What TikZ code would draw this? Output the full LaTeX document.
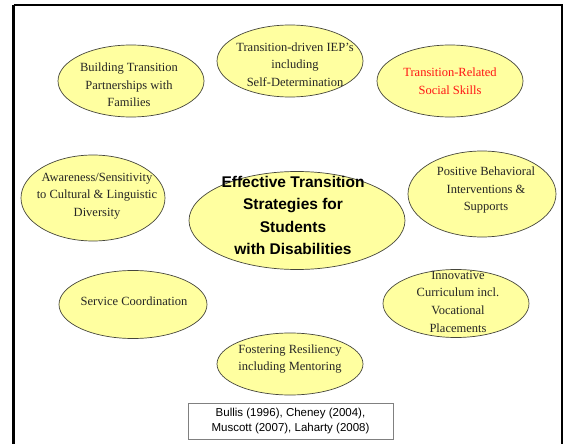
\documentclass[tikz,border=0pt]{standalone}
\usepackage{fontspec}
\setmainfont{Liberation Serif}
\newfontfamily\headfont{Liberation Sans}
\newfontfamily\citefont{Liberation Sans}
\definecolor{bubblefill}{RGB}{255,255,160}
\definecolor{bubbleline}{RGB}{70,70,60}
\definecolor{citeline}{RGB}{128,128,128}
\definecolor{hotred}{RGB}{255,20,20}
\begin{document}
\begin{tikzpicture}[x=1pt,y=-1pt,
  bubble/.style={fill=bubblefill,draw=bubbleline,line width=0.7pt},
  bubbletext/.style={align=center,font=\fontsize{12.5}{17.7}\selectfont,inner sep=0pt,text=black!85},
  hubtext/.style={align=center,font=\headfont\bfseries\fontsize{15.5}{22.3}\selectfont,inner sep=0pt},
  citebox/.style={draw=citeline,line width=0.8pt,fill=white,minimum width=205pt,minimum height=36pt,
    align=center,inner sep=0pt,font=\citefont\fontsize{11.5}{14.5}\selectfont}]
\useasboundingbox (0,0) rectangle (565,444);
\fill[white] (0,0) rectangle (565,444);
% slide frame
\draw[line width=2.6pt] (13.5,5) -- (562,5) -- (562,450);
\draw[line width=3pt] (13.5,5) -- (13.5,450);

% bubbles
\path[bubble] (131,81) ellipse (73pt and 36pt);
\path[bubble] (290,61) ellipse (73pt and 36pt);
\path[bubble] (450,81) ellipse (73pt and 36pt);
\path[bubble] (93,198) ellipse (72pt and 43pt);
\path[bubble] (297,220.5) ellipse (108pt and 49pt);
\path[bubble] (482,194) ellipse (74pt and 43pt);
\path[bubble] (133,304.5) ellipse (74pt and 34pt);
\path[bubble] (456,303.5) ellipse (73pt and 34pt);
\path[bubble] (290,364) ellipse (73pt and 31pt);

% labels
\node[bubbletext] (partners) at (129,85) {Building Transition\\Partnerships with\\Families};
\node[bubbletext] (iep) at (295,64.5) {Transition-driven IEP's\\including\\Self-Determination};
\node[bubbletext,text=hotred] (social) at (450,81) {Transition-Related\\Social Skills};
\node[bubbletext] (culture) at (97,196) {Awareness/Sensitivity\\to Cultural \& Linguistic\\Diversity};
\node[hubtext] (hub) at (293,215.5) {Effective Transition\\Strategies for\\Students\\with Disabilities};
\node[bubbletext] (pbis) at (486,190) {Positive Behavioral\\Interventions \&\\Supports};
\node[bubbletext] (service) at (134,301) {Service Coordination};
\node[bubbletext] (curric) at (458,301.5) {Innovative\\Curriculum incl.\\Vocational\\Placements};
\node[bubbletext] (resil) at (290,359) {Fostering Resiliency\\including Mentoring};

% references
\node[citebox] (refs) at (290.5,421) {Bullis (1996), Cheney (2004),\\Muscott (2007), Laharty (2008)};
\end{tikzpicture}
\end{document}
